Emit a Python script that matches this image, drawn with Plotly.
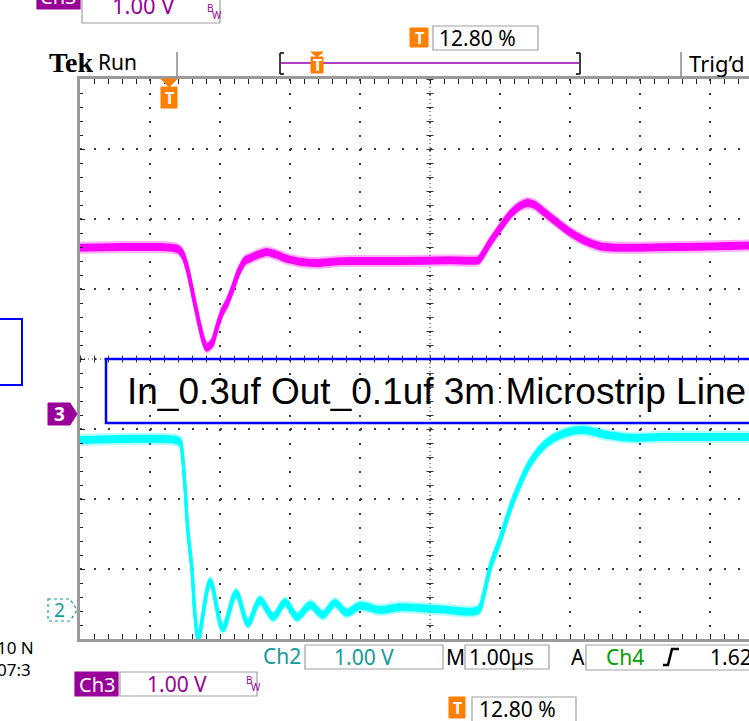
import plotly.graph_objects as go

# ---------------- data ----------------
# time in microseconds relative to screen centre (1.00 us/div), voltage in V (1.00 V/div)
ch3_time = [-5.0, -4.4, -3.86, -3.69, -3.6, -3.53, -3.46, -3.39, -3.31, -3.24, -3.19, -3.11,
            -3.04, -2.97, -2.9, -2.81, -2.74, -2.64, -2.57, -2.46, -2.33, -2.19, -2.04, -1.86,
            -1.61, -1.39, -1.14, -0.43, 0.29, 0.69, 0.74, 0.86, 1.0, 1.14, 1.29, 1.39, 1.5,
            1.64, 1.79, 2.0, 2.21, 2.43, 2.64, 3.0, 3.57, 4.14, 4.56]
ch3_volts = [2.39, 2.40, 2.40, 2.39, 2.37, 2.29, 2.07, 1.74, 1.36, 1.07, 0.96, 1.03,
             1.26, 1.47, 1.60, 1.83, 2.03, 2.21, 2.24, 2.29, 2.33, 2.29, 2.23, 2.19,
             2.17, 2.19, 2.20, 2.20, 2.21, 2.21, 2.27, 2.47, 2.67, 2.86, 2.99, 3.03, 3.00,
             2.89, 2.77, 2.61, 2.49, 2.41, 2.39, 2.39, 2.40, 2.41, 2.42]

ch2_time = [-5.0, -3.63, -3.57, -3.54, -3.5, -3.46, -3.4, -3.36, -3.31, -3.14, -2.96, -2.77,
            -2.6, -2.43, -2.24, -2.07, -1.9, -1.71, -1.53, -1.36, -1.19, -1.0, -0.71, -0.43,
            0.14, 0.69, 0.76, 0.86, 1.0, 1.19, 1.43, 1.67, 1.96, 2.19, 2.53, 2.86, 3.33, 4.56]
ch2_volts = [2.43, 2.43, 2.40, 2.24, 1.76, 1.14, 0.57, -0.04, -0.40, 0.40, -0.26, 0.24,
             -0.19, 0.14, -0.10, 0.11, -0.10, 0.07, -0.07, 0.10, -0.04, 0.06, 0.00, 0.04,
             0.01, 0.00, 0.19, 0.61, 1.00, 1.57, 2.10, 2.39, 2.54, 2.57, 2.50, 2.46, 2.47, 2.47]

ch3_position_div = -0.8     # ground marker "3" (divisions from centre)
ch2_position_div = -3.586   # ground marker "2"
title_text = "In_0.3uf Out_0.1uf 3m Microstrip Line"
volts_per_div = "1.00 V"
time_per_div = "1.00\u00b5s"
trigger_pos = "12.80 %"
date_lines = ["10 N", "07:3"]

# ---------------- geometry ----------------
W, H = 749, 721
PL, PR, PT, PB = 80, 749, 79, 639      # plot area in pixels
DIV = 70.0                              # pixels per division
X_RANGE = [-5.0, -5.0 + (PR - PL) / DIV]

MAGENTA = "#ff00ff"
CYAN = "#00ffff"
PURPLE = "#990099"
TEAL = "#129a9a"
GREEN = "#00a000"
ORANGE = "#ff7f00"
FONT = "Noto Sans"


def px(x):
    return (x - PL) / (PR - PL)


def py(y):
    return (PB - y) / (PB - PT)


fig = go.Figure()

# channel traces drawn on overlaid y axes (vertical offsets give the persistence band)
layout_axes = {}
axis_no = [2]


def add_channel(t, v, color, pos_div, smooth):
    for off, width, op in [(-5, 2, 0.30), (5, 2, 0.30), (-2.5, 3, 1.0), (0, 3, 1.0), (2.5, 3, 1.0)]:
        n = axis_no[0]
        axis_no[0] += 1
        lo = -4 - pos_div - off / DIV
        layout_axes["yaxis%d" % n] = dict(overlaying="y", range=[lo, lo + 8], visible=False,
                                          fixedrange=True)
        fig.add_trace(go.Scatter(x=t, y=v, yaxis="y%d" % n, mode="lines", opacity=op,
                                 line=dict(color=color, width=width, shape="spline", smoothing=smooth),
                                 hoverinfo="skip", showlegend=False))


add_channel(ch3_time, ch3_volts, MAGENTA, ch3_position_div, 0.6)
add_channel(ch2_time, ch2_volts, CYAN, ch2_position_div, 0.95)

shapes = []
annotations = []


def rect(x0, y0, x1, y1, line="#a0a0a0", fill="white", lw=1.2, layer="above"):
    shapes.append(dict(type="rect", xref="paper", yref="paper", x0=px(x0), x1=px(x1),
                       y0=py(y1), y1=py(y0), line=dict(color=line, width=lw),
                       fillcolor=fill, layer=layer))


def line(x0, y0, x1, y1, color="#888888", lw=1.5, dash=None):
    d = dict(color=color, width=lw)
    if dash:
        d["dash"] = dash
    shapes.append(dict(type="line", xref="paper", yref="paper", x0=px(x0), x1=px(x1),
                       y0=py(y0), y1=py(y1), line=d, layer="above"))


def path(points, fill, lcolor, lw=1, dash=None):
    s = "M" + " L".join("%.5f,%.5f" % (px(a), py(b)) for a, b in points) + " Z"
    d = dict(color=lcolor, width=lw)
    if dash:
        d["dash"] = dash
    shapes.append(dict(type="path", xref="paper", yref="paper", path=s, fillcolor=fill,
                       line=d, layer="above"))


def text(x, y, s, color="black", size=20, family=FONT, anchor="left", bold=False):
    if bold:
        s = "<b>" + s + "</b>"
    annotations.append(dict(x=px(x), y=py(y), xref="paper", yref="paper", text=s,
                            showarrow=False, xanchor=anchor, yanchor="middle", align="left",
                            font=dict(color=color, size=size, family=family)))


def tbox(x0, y0, x1, y1):
    rect(x0, y0, x1, y1, line=ORANGE, fill=ORANGE, lw=1)
    text((x0 + x1) / 2, (y0 + y1) / 2 + 0.5, "T", color="white", size=16, anchor="center", bold=True)


# centre cross-hair (dense dots + small perpendicular ticks)
shapes.append(dict(type="line", xref="x", yref="paper", x0=0, x1=0, y0=1, y1=0,
                   line=dict(color="#333333", width=1, dash="1px,3px"), layer="below"))
shapes.append(dict(type="line", xref="x", yref="paper", x0=0, x1=0, y0=1, y1=0,
                   line=dict(color="#333333", width=7, dash="1px,13px"), layer="below"))
shapes.append(dict(type="line", xref="paper", yref="y", x0=0, x1=1, y0=0, y1=0,
                   line=dict(color="#333333", width=1, dash="1px,3px"), layer="below"))
shapes.append(dict(type="line", xref="paper", yref="y", x0=0, x1=1, y0=0, y1=0,
                   line=dict(color="#333333", width=7, dash="1px,13px"), layer="below"))

# ---------- header ----------
# cropped top-left channel readout
rect(37, -15, 80, 9, line=PURPLE, fill=PURPLE)
text(58, -4, "Ch3", color="white", size=20, anchor="center")
rect(82, -10, 220, 23)
text(110, 5, volts_per_div, color=PURPLE, size=22)
text(205, 8, "B", color=PURPLE, size=10)
text(210, 15, "W", color=PURPLE, size=10)

text(47, 62, "Tek", size=28, family="Liberation Serif", bold=True)
text(96, 62, "Run", size=21)
line(177, 52, 177, 77)

# trigger position bar
line(281, 63, 579, 63, color="#b040c0", lw=2)
line(280, 53, 280, 74, color="black", lw=1.5)
line(280, 53, 284, 53, color="black", lw=1.5)
line(280, 74, 284, 74, color="black", lw=1.5)
line(580, 53, 580, 74, color="black", lw=1.5)
line(580, 53, 576, 53, color="black", lw=1.5)
line(580, 74, 576, 74, color="black", lw=1.5)
path([(311, 52), (323, 52), (317, 57)], ORANGE, ORANGE)
tbox(311, 57, 323, 73)

tbox(410, 28, 428, 47)
rect(433, 26, 538, 50)
text(437, 38, trigger_pos, size=21)

line(681, 52, 681, 77)
text(687, 63, "Trig\u2019d", size=22)

# trigger marker at top of graticule
path([(161, 79), (177, 79), (169, 87)], ORANGE, ORANGE)
tbox(161, 87, 177, 108)

# ---------- annotation box ----------
rect(106, 359, 770, 423, line="#0000ff", fill="rgba(0,0,0,0)", lw=2.5)
text(125, 391, title_text, size=37, family="Liberation Sans")
rect(-10, 319, 22, 385, line="#0000ff", fill="rgba(0,0,0,0)", lw=2)

# ---------- channel ground markers ----------
path([(48, 403), (70, 403), (77, 414), (70, 425), (48, 425)], PURPLE, PURPLE)
text(59, 414, "3", color="white", size=19, anchor="center", bold=True)
path([(48, 599), (70, 599), (77, 610), (70, 621), (48, 621)], "white", TEAL, lw=1.2, dash="dot")
text(59, 610, "2", color=TEAL, size=19, anchor="center")

# ---------- footer ----------
text(-5, 658, "<br>".join(date_lines), size=17)

text(261, 656, "Ch2", color=TEAL, size=21)
rect(305, 645, 443, 669)
text(332, 657, volts_per_div, color=TEAL, size=21)
text(444, 657, "M", size=21)
rect(465, 645, 549, 669)
text(467, 657, time_per_div, size=21)
text(569, 657, "A", size=21)
rect(586, 645, 770, 670)
text(604, 657, "Ch4", color=GREEN, size=21)
shapes.append(dict(type="path", xref="paper", yref="paper",
                   path="M%.5f,%.5f L%.5f,%.5f L%.5f,%.5f L%.5f,%.5f" % (
                       px(663), py(665), px(668), py(665), px(672), py(649), px(679), py(649)),
                   line=dict(color="black", width=2.5), layer="above"))
text(708, 657, "1.62 V", size=21)

rect(75, 672, 118, 696, line=PURPLE, fill=PURPLE)
text(96.5, 684, "Ch3", color="white", size=20, anchor="center")
rect(120, 672, 257, 696)
text(145, 684, volts_per_div, color=PURPLE, size=21)
text(244, 680, "B", color=PURPLE, size=10)
text(249, 687, "W", color=PURPLE, size=10)

tbox(449, 697, 465, 718)
rect(472, 697, 576, 730)
text(477, 709, trigger_pos, size=21)

grid_common = dict(showgrid=True, gridcolor="#3a3a3a", gridwidth=2, griddash="2px,12px",
                   zeroline=False, showticklabels=False, fixedrange=True,
                   showline=True, linecolor="#9a9a9a", linewidth=3,
                   ticks="inside", ticklen=5, tickwidth=1, tickcolor="#222222",
                   minor=dict(dtick=0.2, ticks="inside", ticklen=3, tickcolor="#222222",
                              tickwidth=1, showgrid=False))

fig.update_layout(
    width=W, height=H, autosize=False,
    margin=dict(l=PL, r=W - PR, t=PT, b=H - PB, pad=0),
    paper_bgcolor="white", plot_bgcolor="white",
    showlegend=False,
    xaxis=dict(range=X_RANGE, dtick=1, tick0=0, mirror="allticks", **grid_common),
    yaxis=dict(range=[-4, 4], dtick=1, tick0=0, mirror=False, **grid_common),
    shapes=shapes, annotations=annotations,
    **layout_axes,
)

fig.write_html("out.html", config={"displayModeBar": False},
               post_script="document.body.style.margin='0';document.body.style.overflow='hidden';")
